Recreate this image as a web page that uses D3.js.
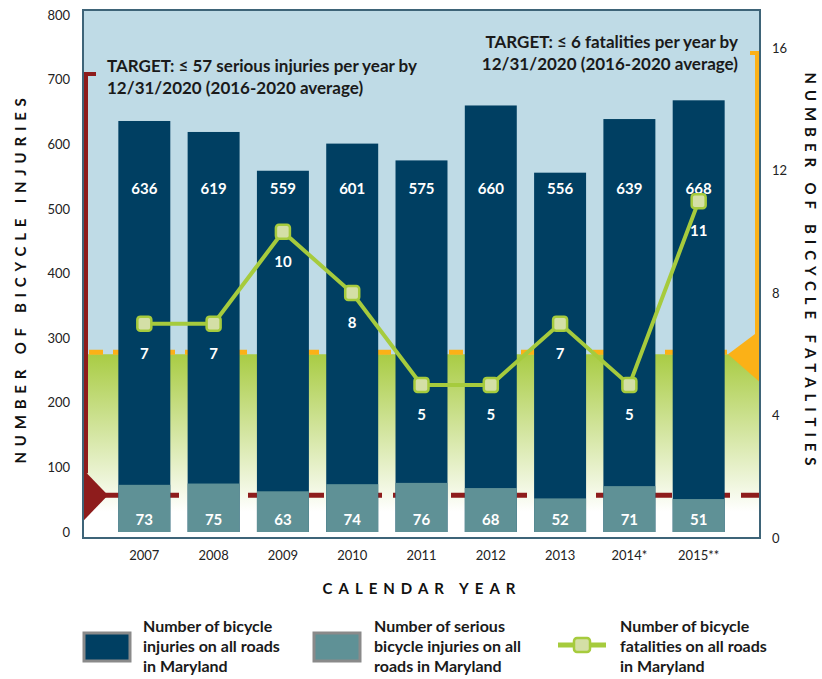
<!DOCTYPE html>
<html>
<head>
<meta charset="utf-8">
<script src="https://cdn.jsdelivr.net/npm/d3@7"></script>
<style>
  body { margin: 0; background: #fff; }
  text { font-family: Lato, "Noto Sans", sans-serif; }
</style>
</head>
<body>
<div id="chart-area"></div>
<script>
// chart data
var years = ["2007", "2008", "2009", "2010", "2011", "2012", "2013", "2014*", "2015**"];
var injuries = [636, 619, 559, 601, 575, 660, 556, 639, 668];
var serious = [73, 75, 63, 74, 76, 68, 52, 71, 51];
var fatalities = [7, 7, 10, 8, 5, 5, 7, 5, 11];
var injuryTicks = [0, 100, 200, 300, 400, 500, 600, 700, 800];
var fatalityTicks = [0, 4, 8, 12, 16];
var seriousTarget = 57;
var fatalityTarget = 6;
var legendLabels = [
    ["Number of bicycle", "injuries on all roads", "in Maryland"],
    ["Number of serious", "bicycle injuries on all", "roads in Maryland"],
    ["Number of bicycle", "fatalities on all roads", "in Maryland"]
];

var W = 822, H = 679;
var plot = { left: 83, right: 760, top: 10, bottom: 538 };

var navy = "#003f62", teal = "#5f9196", green = "#a6cb3d", red = "#8e1c1c", orange = "#fbb117";

var svg = d3.select("#chart-area").append("svg")
    .attr("width", W)
    .attr("height", H);

var defs = svg.append("defs");

// scales
var x = d3.scaleBand()
    .domain(years)
    .range([plot.left, plot.right])
    .paddingInner(0.25)
    .paddingOuter(0.51);

var yInj = d3.scaleLinear().domain([0, 800]).range([532, 15]);
var yFat = d3.scaleLinear().domain([0, 16]).range([538, 48]);

// background
svg.append("rect")
    .attr("x", plot.left).attr("y", plot.top)
    .attr("width", plot.right - plot.left).attr("height", plot.bottom - plot.top)
    .attr("fill", "#bfdbe6");

var grad = defs.append("linearGradient")
    .attr("id", "greenFade")
    .attr("gradientUnits", "userSpaceOnUse")
    .attr("x1", 0).attr("x2", 0)
    .attr("y1", yFat(fatalityTarget)).attr("y2", 512);
grad.append("stop").attr("offset", "0%").attr("stop-color", "#a9cc44");
grad.append("stop").attr("offset", "100%").attr("stop-color", "#ffffff");

svg.append("rect")
    .attr("x", plot.left).attr("y", yFat(fatalityTarget))
    .attr("width", plot.right - plot.left).attr("height", plot.bottom - yFat(fatalityTarget))
    .attr("fill", "url(#greenFade)");

// fatality target (orange dashes + bracket)
svg.append("line")
    .attr("x1", plot.left + 6).attr("x2", 730)
    .attr("y1", yFat(fatalityTarget) - 2).attr("y2", yFat(fatalityTarget) - 2)
    .attr("stroke", orange).attr("stroke-width", 5)
    .attr("stroke-dasharray", "14,10");

svg.append("path")
    .attr("d", "M750,53 H757 V" + (yFat(fatalityTarget) - 20))
    .attr("fill", "none").attr("stroke", orange).attr("stroke-width", 4);

svg.append("path")
    .attr("d", "M" + plot.right + "," + (yFat(fatalityTarget) - 24) +
        " L728," + yFat(fatalityTarget) +
        " L" + plot.right + "," + (yFat(fatalityTarget) + 28) + " Z")
    .attr("fill", orange);

// serious injury target (red dashes + bracket)
svg.append("line")
    .attr("x1", plot.left + 20).attr("x2", plot.right)
    .attr("y1", yInj(seriousTarget)).attr("y2", yInj(seriousTarget))
    .attr("stroke", red).attr("stroke-width", 5)
    .attr("stroke-dasharray", "18,11");

svg.append("path")
    .attr("d", "M96,74 H86 V" + (yInj(seriousTarget) - 22))
    .attr("fill", "none").attr("stroke", red).attr("stroke-width", 4);

svg.append("path")
    .attr("d", "M" + plot.left + "," + (yInj(seriousTarget) - 26) +
        " L108," + yInj(seriousTarget) +
        " L" + plot.left + "," + (yInj(seriousTarget) + 26) + " Z")
    .attr("fill", red);

// bars
svg.selectAll("rect.inj")
    .data(years)
    .enter().append("rect")
    .attr("class", "inj")
    .attr("x", d => x(d))
    .attr("y", (d, i) => yInj(injuries[i]))
    .attr("width", x.bandwidth())
    .attr("height", (d, i) => yInj(0) - yInj(injuries[i]))
    .attr("fill", navy);

svg.selectAll("rect.ser")
    .data(years)
    .enter().append("rect")
    .attr("class", "ser")
    .attr("x", d => x(d))
    .attr("y", (d, i) => yInj(serious[i]))
    .attr("width", x.bandwidth())
    .attr("height", (d, i) => yInj(0) - yInj(serious[i]))
    .attr("fill", teal);

// bar labels
svg.selectAll("text.injLabel")
    .data(years)
    .enter().append("text")
    .attr("class", "injLabel")
    .attr("x", d => x(d) + x.bandwidth() / 2)
    .attr("y", 194)
    .attr("text-anchor", "middle")
    .attr("fill", "#fff").attr("font-weight", "bold").attr("font-size", "15px")
    .text((d, i) => injuries[i]);

svg.selectAll("text.serLabel")
    .data(years)
    .enter().append("text")
    .attr("class", "serLabel")
    .attr("x", d => x(d) + x.bandwidth() / 2)
    .attr("y", 525)
    .attr("text-anchor", "middle")
    .attr("fill", "#fff").attr("font-weight", "bold").attr("font-size", "15px")
    .text((d, i) => serious[i]);

// fatality line
var line = d3.line()
    .x((d, i) => x(years[i]) + x.bandwidth() / 2)
    .y(d => yFat(d));

svg.append("path")
    .datum(fatalities)
    .attr("d", line)
    .attr("fill", "none")
    .attr("stroke", green)
    .attr("stroke-width", 4);

svg.selectAll("rect.marker")
    .data(fatalities)
    .enter().append("rect")
    .attr("class", "marker")
    .attr("x", (d, i) => x(years[i]) + x.bandwidth() / 2 - 7)
    .attr("y", d => yFat(d) - 7)
    .attr("width", 14).attr("height", 14)
    .attr("rx", 3)
    .attr("fill", "#d4dfa6")
    .attr("stroke", green).attr("stroke-width", 2.5);

svg.selectAll("text.fatLabel")
    .data(fatalities)
    .enter().append("text")
    .attr("class", "fatLabel")
    .attr("x", (d, i) => x(years[i]) + x.bandwidth() / 2)
    .attr("y", d => yFat(d) + 35)
    .attr("text-anchor", "middle")
    .attr("fill", "#fff").attr("font-weight", "bold").attr("font-size", "15px")
    .text(d => d);

// frame
svg.append("rect")
    .attr("x", plot.left).attr("y", plot.top)
    .attr("width", plot.right - plot.left).attr("height", plot.bottom - plot.top)
    .attr("fill", "none")
    .attr("stroke", "#3e6478").attr("stroke-width", 2);

// target notes
var note1 = svg.append("text")
    .attr("font-weight", "bold").attr("font-size", "17px").attr("fill", "#1a1a1a");
note1.append("tspan").attr("x", 107).attr("y", 72).text("TARGET: \u2264 57 serious injuries per year by");
note1.append("tspan").attr("x", 107).attr("y", 94).text("12/31/2020 (2016-2020 average)");

var note2 = svg.append("text")
    .attr("font-weight", "bold").attr("font-size", "17px").attr("fill", "#1a1a1a")
    .attr("text-anchor", "end");
note2.append("tspan").attr("x", 738).attr("y", 48).text("TARGET: \u2264 6 fatalities per year by");
note2.append("tspan").attr("x", 738).attr("y", 70).text("12/31/2020 (2016-2020 average)");

// axes
var leftAxis = svg.append("g")
    .attr("transform", "translate(70,0)")
    .call(d3.axisLeft(yInj).tickValues(injuryTicks).tickSize(0).tickPadding(0));
leftAxis.select(".domain").remove();
leftAxis.selectAll("text").attr("font-size", "13px").attr("fill", "#222")
    .attr("font-family", "Lato, sans-serif");

var rightAxis = svg.append("g")
    .attr("transform", "translate(772,0)")
    .call(d3.axisRight(yFat).tickValues(fatalityTicks).tickSize(0).tickPadding(0));
rightAxis.select(".domain").remove();
rightAxis.selectAll("text").attr("font-size", "13px").attr("fill", "#222")
    .attr("font-family", "Lato, sans-serif");

var bottomAxis = svg.append("g")
    .attr("transform", "translate(0,551)")
    .call(d3.axisBottom(x).tickSize(0).tickPadding(0));
bottomAxis.select(".domain").remove();
bottomAxis.selectAll("text").attr("font-size", "13px").attr("fill", "#222")
    .attr("font-family", "Lato, sans-serif");

// axis titles
svg.append("text")
    .attr("transform", "translate(26,278) rotate(-90)")
    .attr("text-anchor", "middle")
    .attr("font-family", "DejaVu Sans, sans-serif")
    .attr("font-weight", "bold").attr("font-size", "15px")
    .attr("letter-spacing", "5.8px").attr("fill", "#111")
    .text("NUMBER OF BICYCLE INJURIES");

svg.append("text")
    .attr("transform", "translate(805,272) rotate(90)")
    .attr("text-anchor", "middle")
    .attr("font-family", "DejaVu Sans, sans-serif")
    .attr("font-weight", "bold").attr("font-size", "15px")
    .attr("letter-spacing", "5.9px").attr("fill", "#111")
    .text("NUMBER OF BICYCLE FATALITIES");

svg.append("text")
    .attr("x", 422).attr("y", 594)
    .attr("text-anchor", "middle")
    .attr("font-family", "DejaVu Sans, sans-serif")
    .attr("font-weight", "bold").attr("font-size", "15px")
    .attr("letter-spacing", "6px").attr("fill", "#111")
    .text("CALENDAR YEAR");

// legend
var legend = svg.append("g");
var textX = [143, 374, 620];

legend.append("rect").attr("x", 84).attr("y", 633).attr("width", 46).attr("height", 28)
    .attr("fill", navy).attr("stroke", "#8a8a8a").attr("stroke-width", 3);
legend.append("rect").attr("x", 314).attr("y", 633).attr("width", 46).attr("height", 28)
    .attr("fill", teal).attr("stroke", "#8a8a8a").attr("stroke-width", 3);
legend.append("line").attr("x1", 558).attr("x2", 606).attr("y1", 645).attr("y2", 645)
    .attr("stroke", green).attr("stroke-width", 5);
legend.append("rect").attr("x", 574).attr("y", 638).attr("width", 16).attr("height", 14).attr("rx", 3)
    .attr("fill", "#d4dfa6").attr("stroke", green).attr("stroke-width", 2.5);

legendLabels.forEach(function(lines, i) {
    var t = legend.append("text")
        .attr("font-weight", "bold").attr("font-size", "16px").attr("fill", "#1a1a1a");
    lines.forEach(function(l, j) {
        t.append("tspan").attr("x", textX[i]).attr("y", 632 + j * 20).text(l);
    });
});
</script>
</body>
</html>
